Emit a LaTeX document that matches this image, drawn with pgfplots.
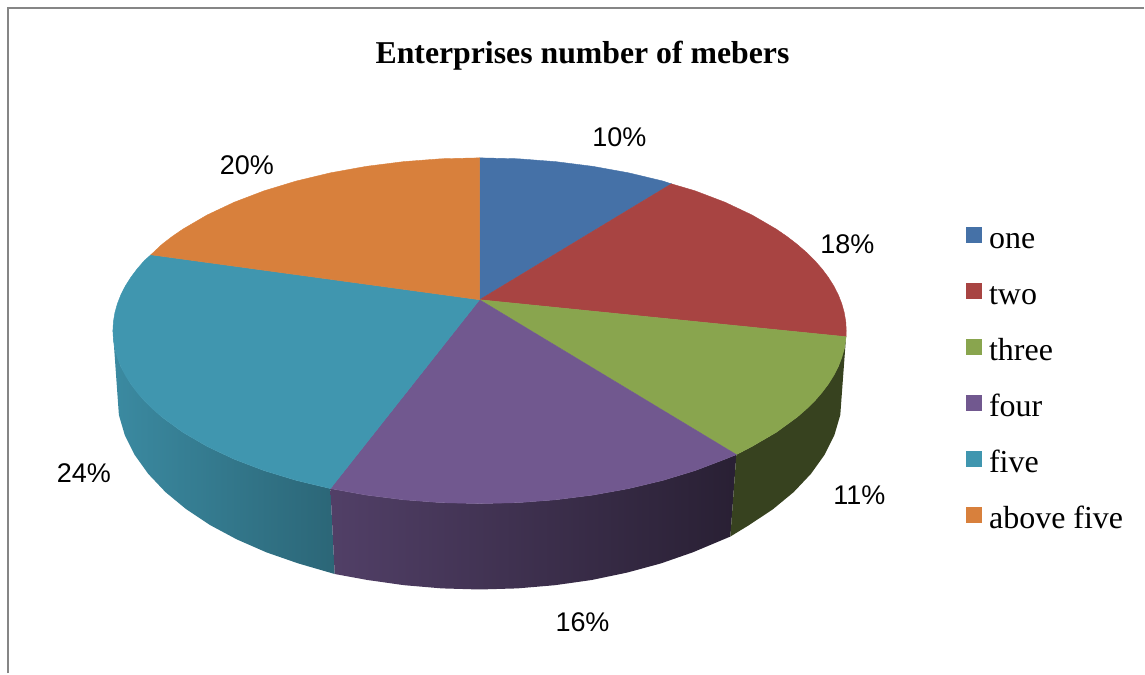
\documentclass[border=0pt]{standalone}
\usepackage{pgfplots}
\pgfplotsset{compat=1.18}
\usepackage{fontspec}
\setmainfont{Liberation Serif}
\newfontfamily\labelfont{Liberation Sans}
\definecolor{cOne}{HTML}{4571A7}
\definecolor{cTwo}{HTML}{A84442}
\definecolor{cThree}{HTML}{89A54E}
\definecolor{cFour}{HTML}{71588F}
\definecolor{cFive}{HTML}{4096AF}
\definecolor{cSix}{HTML}{D8803C}
\definecolor{frame}{HTML}{868686}
\begin{document}
\begin{tikzpicture}
\begin{axis}[
  scale only axis, width=572.5pt, height=337pt,
  xmin=0, xmax=1145, ymin=0, ymax=674, y dir=reverse,
  hide axis, clip=false,
  legend cell align=left,
  legend style={
    at={(0.8445,0.6637)}, anchor=north west, draw=none, fill=none,
    inner sep=0pt, outer sep=0pt,
    row sep=13.48pt, column sep=3.5pt,
    font=\fontsize{16}{18}\selectfont,
    nodes={inner sep=0pt, outer sep=0pt, text height=11pt, text depth=3.5pt},
  },
  legend image code/.code={
    \fill[#1, draw=none] (0pt,-1pt) rectangle (8pt,7pt);
  },
]
% keeps the full canvas inside the bounding box
\addplot[forget plot, draw=none] coordinates {(0,0) (1145,674)};

% chart border
\addplot[forget plot, frame, line width=1pt] coordinates {(8.5,674) (8.5,7.8) (1145,7.8)};

% side walls of the disc
\addplot[forget plot, draw=none, left color=cFive!92!black, right color=cFive!68!black] coordinates {
 (330.7,489) (296.5,480.8) (264.3,471) (234.4,459.6) (207.3,446.8) (183.1,432.7)
 (162.2,417.5) (144.7,401.4) (131,384.5) (121,367) (115,349.1) (113,331)
 (119,415.4) (124.9,435.5) (134.8,455.3) (148.4,474.3) (165.6,492.5) (186.3,509.6)
 (210.2,525.5) (237.1,539.9) (266.6,552.8) (298.5,563.9) (335,574.5)} -- cycle;
\addplot[forget plot, draw=none, left color=cFour!72!black, right color=cFour!36!black] coordinates {
 (737,455) (725.6,459.6) (695.7,471) (663.5,480.8) (629.3,489) (593.4,495.5) (556.3,500.2)
 (518.4,503.1) (480,504) (441.6,503.1) (403.7,500.2) (366.6,495.5) (330.7,489)
 (335,574.5) (367.8,580.5) (404.5,585.7) (442.1,588.9) (480,590) (517.9,588.9)
 (555.5,585.7) (592.2,580.5) (627.6,573.1) (661.5,563.9) (693.4,552.8) (731,537)} -- cycle;
\addplot[forget plot, draw=none, fill=cThree!40!black] coordinates {
 (846.8,337) (845,349.1) (839,367) (829,384.5) (815.3,401.4) (797.8,417.5) (776.9,432.7)
 (752.7,446.8) (737,455) (731,537) (749.8,525.5) (773.7,509.6) (794.4,492.5)
 (811.6,474.3) (825.2,455.3) (835.1,435.5) (841,415.4)} -- cycle;

% top face, one wedge per category
\addplot[fill=cOne, draw=cOne, line width=0.2pt] coordinates {
 (480,300) (480,158) (518.4,158.9) (556.3,161.8) (593.4,166.5) (629.3,173) (663.5,181.2) (672,184)} -- cycle;
\addlegendentry{one}
\addplot[fill=cTwo, draw=cTwo, line width=0.2pt] coordinates {
 (480,300) (672,184) (695.7,191) (725.6,202.4) (752.7,215.2) (776.9,229.3) (787.8,236.8) (797.8,244.5)
 (807,252.5) (815.3,260.6) (822.6,269) (829,277.5) (834.5,286.2) (839,295) (842.5,304) (845,312.9)
 (846.5,322) (847,331) (846.8,337)} -- cycle;
\addlegendentry{two}
\addplot[fill=cThree, draw=cThree, line width=0.2pt] coordinates {
 (480,300) (846.8,337) (845,349.1) (842.5,358) (839,367) (834.5,375.8) (829,384.5) (822.6,393)
 (815.3,401.4) (807,409.5) (797.8,417.5) (776.9,432.7) (752.7,446.8) (737,455)} -- cycle;
\addlegendentry{three}
\addplot[fill=cFour, draw=cFour, line width=0.2pt] coordinates {
 (480,300) (737,455) (725.6,459.6) (695.7,471) (663.5,480.8) (629.3,489) (593.4,495.5)
 (556.3,500.2) (518.4,503.1) (480,504) (441.6,503.1) (403.7,500.2) (366.6,495.5) (330.7,489)} -- cycle;
\addlegendentry{four}
\addplot[fill=cFive, draw=cFive, line width=0.2pt] coordinates {
 (480,300) (330.7,489) (296.5,480.8) (264.3,471) (234.4,459.6) (207.3,446.8) (183.1,432.7)
 (162.2,417.5) (153,409.5) (144.7,401.4) (137.4,393) (131,384.5) (125.5,375.8) (121,367) (117.5,358)
 (115,349.1) (113.5,340) (113,331) (113.5,322) (115,312.9) (117.5,304) (121,295) (125.5,286.2)
 (131,277.5) (137.4,269) (144.7,260.6) (151,255)} -- cycle;
\addlegendentry{five}
\addplot[fill=cSix, draw=cSix, line width=0.2pt] coordinates {
 (480,300) (151,255) (162.2,244.5) (172.2,236.8) (183.1,229.3) (207.3,215.2) (234.4,202.4) (264.3,191)
 (296.5,181.2) (330.7,173) (366.6,166.5) (403.7,161.8) (441.6,158.9) (480,158)} -- cycle;
\addlegendentry{above five}

% title and percentage labels
\node[anchor=base, inner sep=0pt, font=\fontsize{15.9}{18}\selectfont\bfseries] at (axis cs:583,64) {Enterprises number of mebers};
\begin{scope}[every node/.style={anchor=base, inner sep=0pt, font=\fontsize{13.5}{16}\selectfont\labelfont}]
\node at (axis cs:620,147) {10\%};
\node at (axis cs:848,254) {18\%};
\node at (axis cs:860,504.5) {11\%};
\node at (axis cs:583,632) {16\%};
\node at (axis cs:84,483) {24\%};
\node at (axis cs:247,175) {20\%};
\end{scope}
\end{axis}
\end{tikzpicture}
\end{document}
